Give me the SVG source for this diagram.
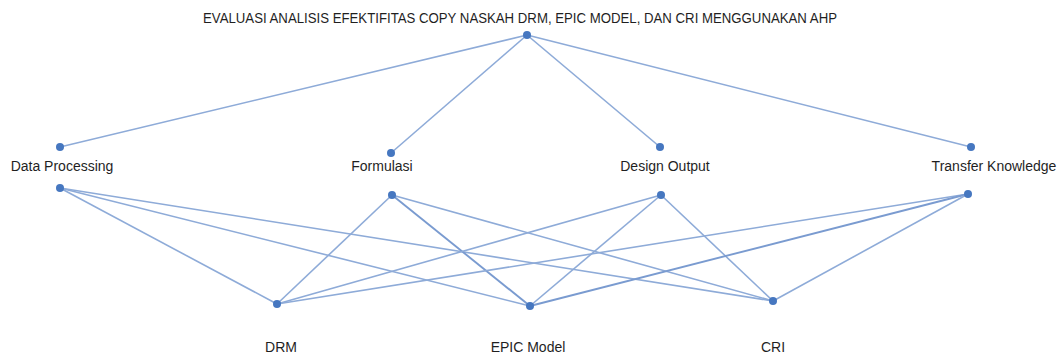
<svg xmlns="http://www.w3.org/2000/svg" width="1064" height="356" viewBox="0 0 1064 356">
<style>
.bg{fill:#ffffff}
.ln{stroke:#8eabd8;stroke-width:1.6;fill:none}
.lnb{stroke:#7a9bd0;stroke-width:1.9;fill:none}
.dot{fill:#4677c0}
text{font-family:"Liberation Sans",Arial,sans-serif;font-size:14px;fill:#1f1f1f;text-anchor:middle}
.title{font-size:14px}
</style>
<rect class="bg" x="0" y="0" width="1064" height="356"/>
<g id="connectors">
<line class="ln" x1="527" y1="35" x2="60" y2="147"/>
<line class="ln" x1="527" y1="35" x2="391" y2="153"/>
<line class="ln" x1="527" y1="35" x2="660" y2="147"/>
<line class="ln" x1="527" y1="35" x2="971" y2="147"/>
<line class="ln" x1="60" y1="188" x2="277" y2="304"/>
<line class="ln" x1="60" y1="188" x2="530" y2="306"/>
<line class="ln" x1="60" y1="188" x2="773" y2="301"/>
<line class="ln" x1="392" y1="195" x2="277" y2="304"/>
<line class="lnb" x1="392" y1="195" x2="530" y2="306"/>
<line class="ln" x1="392" y1="195" x2="773" y2="301"/>
<line class="ln" x1="661" y1="195" x2="277" y2="304"/>
<line class="ln" x1="661" y1="195" x2="530" y2="306"/>
<line class="ln" x1="661" y1="195" x2="773" y2="301"/>
<line class="ln" x1="968" y1="194" x2="277" y2="304"/>
<line class="lnb" x1="968" y1="194" x2="530" y2="306"/>
<line class="ln" x1="968" y1="194" x2="773" y2="301"/>
</g>
<g id="goal">
<text class="title" x="520" y="23" textLength="634" lengthAdjust="spacingAndGlyphs">EVALUASI ANALISIS EFEKTIFITAS COPY NASKAH DRM, EPIC MODEL, DAN CRI MENGGUNAKAN AHP</text>
<circle class="dot" cx="527" cy="35" r="4"/>
</g>
<g id="data-processing">
<circle class="dot" cx="60" cy="147" r="4"/>
<text x="62" y="171">Data Processing</text>
<circle class="dot" cx="60" cy="188" r="4"/>
</g>
<g id="formulasi">
<circle class="dot" cx="391" cy="153" r="4"/>
<text x="382" y="171">Formulasi</text>
<circle class="dot" cx="392" cy="195" r="4"/>
</g>
<g id="design-output">
<circle class="dot" cx="660" cy="147" r="4"/>
<text x="665" y="171">Design Output</text>
<circle class="dot" cx="661" cy="195" r="4"/>
</g>
<g id="transfer-knowledge">
<circle class="dot" cx="971" cy="147" r="4"/>
<text x="994" y="171">Transfer Knowledge</text>
<circle class="dot" cx="968" cy="194" r="4"/>
</g>
<g id="drm">
<circle class="dot" cx="277" cy="304" r="4"/>
<text x="281" y="352">DRM</text>
</g>
<g id="epic-model">
<circle class="dot" cx="530" cy="306" r="4"/>
<text x="528" y="352">EPIC Model</text>
</g>
<g id="cri">
<circle class="dot" cx="773" cy="301" r="4"/>
<text x="773" y="352">CRI</text>
</g>
</svg>
